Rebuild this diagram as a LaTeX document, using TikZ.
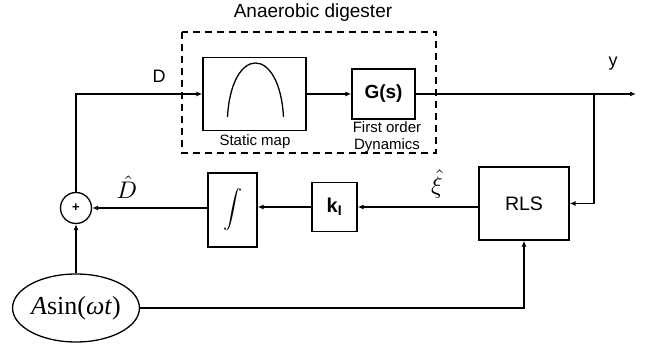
\documentclass[tikz,border=0pt]{standalone}
\usepackage{fontspec}
\usepackage{graphicx}
\setmainfont{Liberation Sans}
\newfontfamily\tms{Liberation Serif}
\usetikzlibrary{arrows.meta,shapes.geometric,calc}
\newcommand{\fs}[1]{\fontsize{#1}{#1}\selectfont}
\begin{document}
\begin{tikzpicture}[x=1pt,y=-1pt,
  lw/.style={line width=1.3pt},
  blk/.style={draw,lw,inner sep=0pt},
  arr/.style={lw,-{Latex[length=6pt,width=5pt]}},
  lbl/.style={inner sep=0pt},
]
\useasboundingbox (0,0) rectangle (653,347);
% dashed enclosure
\draw[lw,dash pattern=on 7pt off 5pt] (182,32) rectangle (436,153);
\node[lbl,font=\fs{19}] (title) at (313,13) {Anaerobic digester};
% blocks
\node[blk,minimum width=103pt,minimum height=73pt] (static) at (254.5,94) {};
\draw[lw] ($(static.center)+(-27,23)$) .. controls ($(static.center)+(-23,-49)$) and ($(static.center)+(25,-49)$) .. ($(static.center)+(29,23)$);
\node[lbl,font=\fs{15}] (smap) at (255,142) {Static map};
\node[blk,minimum width=63pt,minimum height=50pt,font=\fs{19}\bfseries] (Gs) at (383.5,94) {G(s)};
\node[lbl,font=\fs{15},align=center] (fod) at (387,137) {First order\\[2pt]Dynamics};
\node[blk,minimum width=90pt,minimum height=73pt,font=\fs{19.5}] (RLS) at (524,203.5) {RLS};
\node[blk,minimum width=45pt,minimum height=49pt,font=\fs{20}\bfseries] (kI) at (334.5,207) {k\textsubscript{I}};
\node[blk,minimum width=49pt,minimum height=74pt] (integ) at (232.5,210) {\scalebox{1.9}{$\displaystyle\int$}};
\node[draw,lw,circle,minimum size=31pt,inner sep=0pt,font=\fs{13}\bfseries] (sum) at (76,208) {+};
\node[draw,lw,ellipse,minimum width=122pt,minimum height=68pt,inner sep=0pt,font=\tms\fs{26}] (sine) at (76,308) {\textit{A}sin(\textit{ωt})};
% labels
\node[lbl,font=\fs{18}] (Dl) at (159,76) {D};
\node[lbl,font=\fs{18}] (yl) at (613,64) {y};
\node[lbl] (xil) at (437,184) {\scalebox{2.4}{$\hat{\xi}$}};
\node[lbl] (Dhl) at (127,187) {\scalebox{2.4}{$\hat{D}$}};
% coordinates
\coordinate (corner) at (76,94);
\coordinate (branch) at (594,94);
\coordinate (out) at (636,94);
% connectors
\draw[arr] (sum.north) -- (corner) -- (static.west);
\draw[arr] (static.east) -- (Gs.west);
\draw[arr] (Gs.east) -- (out);
\draw[arr] (branch) |- (RLS.east);
\draw[arr] (RLS.west |- kI.east) -- (kI.east);
\draw[arr] (kI.west) -- (integ.east |- kI.west);
\draw[arr] (integ.west |- sum.east) -- (sum.east);
\draw[arr] (sine.north) -- (sum.south);
\draw[arr] (sine.east) -| (RLS.south);
\end{tikzpicture}
\end{document}
